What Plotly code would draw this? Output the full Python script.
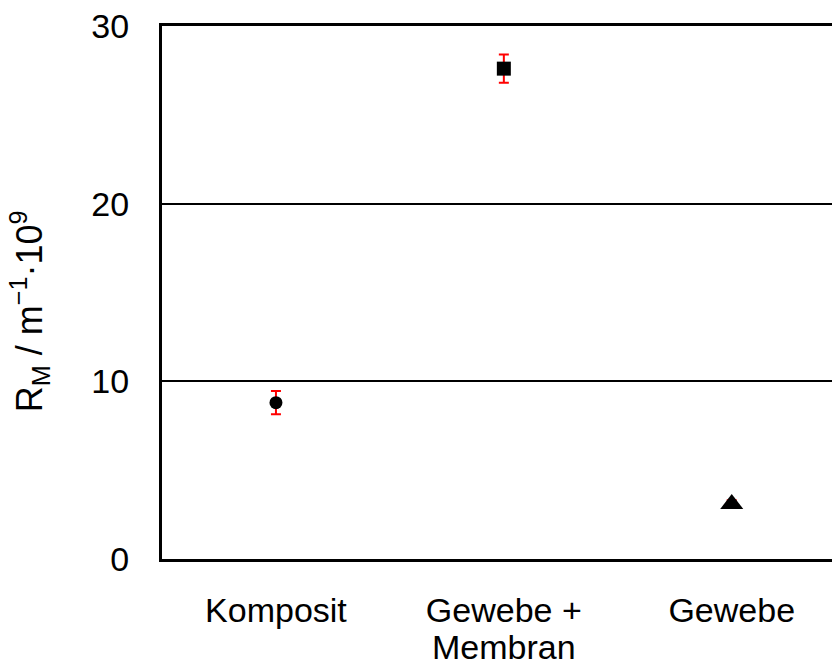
import plotly.graph_objects as go

# Membrane resistance for the three sample types
categories = ["Komposit", "Gewebe +\nMembran", "Gewebe"]
rm_values = [8.8, 27.6, 3.1]
rm_errors = [0.65, 0.8, 0.2]
symbols = ["circle", "square", "triangle-up"]
marker_sizes = [13, 14, 20]
y_ticks = [0, 10, 20, 30]
y_title = "R<sub>M</sub> / m<sup>−1</sup>·10<sup>9</sup>"

positions = list(range(len(categories)))
font_family = "Liberation Sans, Arial, sans-serif"
font_size = 34

fig = go.Figure()
for pos, val, err, sym, size in zip(positions, rm_values, rm_errors, symbols, marker_sizes):
    fig.add_trace(go.Scatter(
        x=[pos], y=[val],
        mode="markers",
        marker=dict(symbol=sym, size=size, color="black", line=dict(width=0)),
        error_y=dict(type="data", array=[err], visible=True,
                     color="red", thickness=2, width=5),
        showlegend=False,
    ))

# first line of each category goes on the axis, further lines are placed
# underneath with a tighter line spacing
first_lines = [c.split("\n")[0] for c in categories]
for pos, cat in zip(positions, categories):
    for k, line in enumerate(cat.split("\n")[1:], start=1):
        fig.add_annotation(
            x=pos, xref="x", y=0, yref="paper",
            text=line, showarrow=False,
            xanchor="center", yanchor="top",
            yshift=-29 - 38 * k,
            font=dict(family=font_family, size=font_size, color="black"),
        )

# rotated y-axis title
fig.add_annotation(
    x=0, xref="paper", y=0.465, yref="paper",
    text=y_title, showarrow=False, textangle=-90,
    xanchor="center", yanchor="middle", xshift=-133,
    font=dict(family=font_family, size=36, color="black"),
)

fig.update_layout(
    width=832, height=666,
    margin=dict(l=162, r=0, t=26, b=107),
    paper_bgcolor="white", plot_bgcolor="white",
    font=dict(family=font_family, size=font_size, color="black"),
    xaxis=dict(
        range=[-0.5, 2.44],
        tickmode="array", tickvals=positions, ticktext=first_lines,
        showgrid=False, zeroline=False,
        showline=True, mirror=True, linecolor="black", linewidth=3,
        ticks="", ticklabelstandoff=19,
    ),
    yaxis=dict(
        range=[0, 30],
        tickmode="array", tickvals=y_ticks,
        showgrid=True, gridcolor="black", gridwidth=2,
        zeroline=False,
        showline=True, linecolor="black", linewidth=3,
        ticks="", ticklabelstandoff=23,
    ),
)

fig.write_html("out.html")
